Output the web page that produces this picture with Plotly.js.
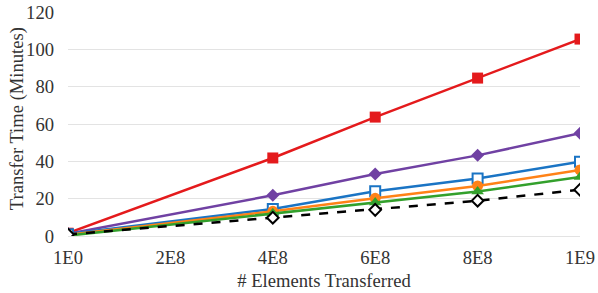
<!DOCTYPE html>
<html><head><meta charset="utf-8">
<script src="https://cdn.plot.ly/plotly-3.0.1.min.js"></script>
<style>html,body{margin:0;padding:0;background:#fff}#c{width:598px;height:293px}</style>
</head><body><div id="c"></div>
<script>
const xVals = [1, 4e8, 6e8, 8e8, 1e9];
const tickVals = [0, 2e8, 4e8, 6e8, 8e8, 1e9];
const tickText = ["1E0", "2E8", "4E8", "6E8", "8E8", "1E9"];
const yTickVals = [0, 20, 40, 60, 80, 100, 120];
const redVals = [1.5, 41.8, 63.7, 84.6, 105.5];
const purpleVals = [1.2, 21.8, 33.2, 43.2, 55.0];
const blueVals = [1.0, 14.5, 24.0, 30.8, 39.8];
const orangeVals = [0.6, 13.2, 20.2, 26.8, 35.4];
const greenVals = [0.2, 12.2, 18.0, 23.8, 31.6];
const blackVals = [0.8, 9.8, 14.0, 18.9, 24.8];

const ln = (y, color, symbol, size, extra) => Object.assign({
  x: xVals, y: y, type: 'scatter', mode: 'lines+markers',
  line: {color: color, width: 2.5},
  marker: {symbol: symbol, size: size, color: color}
}, extra || {});

const data = [
  ln(redVals, '#E41A1C', 'square', 11),
  ln(purpleVals, '#7041A3', 'diamond', 10),
  ln(blueVals, '#1A74C4', 'square', 10, {marker:{symbol:'square', size:10, color:'#ffffff', line:{color:'#1A74C4', width:2}}}),
  ln(orangeVals, '#FF8217', 'circle', 11),
  ln(greenVals, '#33A02C', 'triangle-up', 11),
  ln(blackVals, '#000000', 'diamond', 9, {line:{color:'#000', width:2.5, dash:'dash'}, marker:{symbol:'diamond', size:9, color:'#ffffff', line:{color:'#000', width:2}}})
];

const font = {family: 'Liberation Serif', size: 18.6, color: '#333333'};
const layout = {
  width: 598, height: 293,
  margin: {l: 68, r: 18, t: 12, b: 57},
  showlegend: false,
  paper_bgcolor: '#fff', plot_bgcolor: '#fff',
  font: font,
  xaxis: {
    range: [0, 1e9], tickvals: tickVals, ticktext: tickText,
    showgrid: false, zeroline: false, showline: false, ticks: '',
    tickfont: font, ticklabelstandoff: 8,
    title: {text: '# Elements Transferred', font: font, standoff: 7}
  },
  yaxis: {
    range: [0, 120], tickvals: yTickVals,
    showgrid: true, gridcolor: '#e3e3e3', gridwidth: 1,
    zeroline: true, zerolinecolor: '#e3e3e3', zerolinewidth: 1,
    showline: false, ticks: '', tickfont: font, ticklabelstandoff: 13
  },
  annotations: [{
    text: 'Transfer Time (Minutes)', textangle: -90, showarrow: false,
    xref: 'paper', yref: 'paper', x: -0.098, y: 0.525,
    xanchor: 'center', yanchor: 'middle', font: font
  }]
};
Plotly.newPlot('c', data, layout, {displayModeBar: false, staticPlot: true});
</script></body></html>
